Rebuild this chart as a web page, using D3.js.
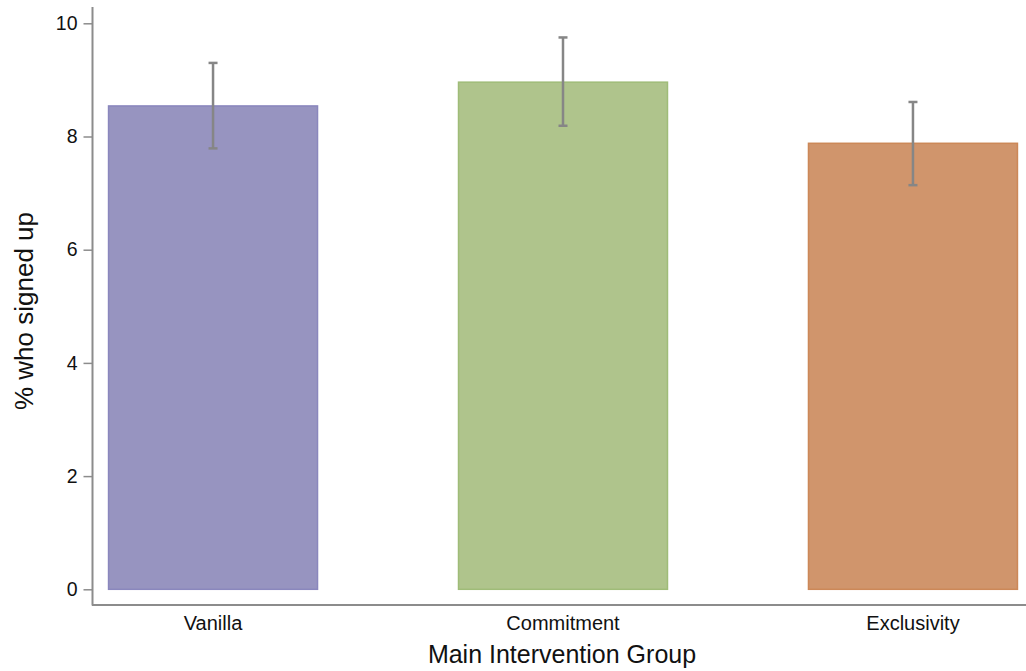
<!DOCTYPE html>
<html>
<head>
<meta charset="utf-8">
<script src="https://cdn.jsdelivr.net/npm/d3@7"></script>
<style>
  html, body { margin: 0; padding: 0; background: #fff; }
  svg { display: block; font-family: "Liberation Sans", Arial, Helvetica, sans-serif; }
</style>
</head>
<body>
<svg id="chart" width="1026" height="671"></svg>
<script>
// Sign-up rate by main intervention group, with 95% intervals
const groups = ["Vanilla", "Commitment", "Exclusivity"];
const signedUp = [8.54, 8.96, 7.88];
const ciLow = [7.79, 8.19, 7.14];
const ciHigh = [9.30, 9.75, 8.61];
const fills = ["#9794c0", "#afc48c", "#d0956c"];
const strokes = ["#8a87bd", "#9fbc78", "#cc8858"];
const yTicks = [0, 2, 4, 6, 8, 10];

const svg = d3.select("#chart");
const axisColor = "#8c8c8c";

const x = d3.scaleBand()
  .domain(groups)
  .range([93, 1033])
  .paddingInner(0.4)
  .paddingOuter(0.043);

const y = d3.scaleLinear()
  .domain([0, 10])
  .range([589.3, 23.3]);

// y axis
const yAxis = svg.append("g")
  .attr("transform", "translate(92.5,0)")
  .call(d3.axisLeft(y).tickValues(yTicks).tickSize(9).tickPadding(6).tickFormat(d3.format("d")));
yAxis.select(".domain").remove();
yAxis.selectAll(".tick line").attr("stroke", axisColor).attr("stroke-width", 1.5);
yAxis.selectAll(".tick text")
  .attr("fill", "#111")
  .style("font-size", "19.5px")
  .style("font-family", "\"Liberation Sans\", Arial, sans-serif");
svg.append("line")
  .attr("x1", 92.5).attr("x2", 92.5)
  .attr("y1", 7).attr("y2", 605.5)
  .attr("stroke", axisColor).attr("stroke-width", 2);

// x axis
svg.append("line")
  .attr("x1", 92).attr("x2", 1026)
  .attr("y1", 605).attr("y2", 605)
  .attr("stroke", axisColor).attr("stroke-width", 2);
const xAxis = svg.append("g")
  .attr("transform", "translate(0,605)")
  .call(d3.axisBottom(x).tickSize(0).tickPadding(10));
xAxis.select(".domain").remove();
xAxis.selectAll(".tick text")
  .attr("fill", "#111")
  .attr("dy", "0")
  .attr("y", 25)
  .style("font-size", "20px")
  .style("font-family", "\"Liberation Sans\", Arial, sans-serif");

// bars
const data = groups.map((g, i) => ({ g, v: signedUp[i], lo: ciLow[i], hi: ciHigh[i], fill: fills[i], stroke: strokes[i] }));

svg.append("g").selectAll("rect")
  .data(data)
  .join("rect")
  .attr("x", d => x(d.g) + 0.5)
  .attr("y", d => y(d.v))
  .attr("width", x.bandwidth() - 1)
  .attr("height", d => y(0) - y(d.v))
  .attr("fill", d => d.fill)
  .attr("stroke", d => d.stroke)
  .attr("stroke-width", 1.5);

// error bars
const eb = svg.append("g").attr("stroke", "#868686").attr("stroke-width", 2.5).attr("fill", "none");
const cx = d => x(d.g) + x.bandwidth() / 2;
eb.selectAll("line.stem").data(data).join("line").attr("class", "stem")
  .attr("x1", cx).attr("x2", cx)
  .attr("y1", d => y(d.hi)).attr("y2", d => y(d.lo));
eb.selectAll("line.capHi").data(data).join("line").attr("class", "capHi")
  .attr("x1", d => cx(d) - 4.5).attr("x2", d => cx(d) + 4.5)
  .attr("y1", d => y(d.hi)).attr("y2", d => y(d.hi));
eb.selectAll("line.capLo").data(data).join("line").attr("class", "capLo")
  .attr("x1", d => cx(d) - 4.5).attr("x2", d => cx(d) + 4.5)
  .attr("y1", d => y(d.lo)).attr("y2", d => y(d.lo));

// axis titles
svg.append("text")
  .attr("x", 562).attr("y", 663)
  .attr("text-anchor", "middle")
  .attr("fill", "#111")
  .style("font-size", "25px")
  .text("Main Intervention Group");

svg.append("text")
  .attr("transform", "translate(33,311) rotate(-90)")
  .attr("text-anchor", "middle")
  .attr("fill", "#111")
  .style("font-size", "26px")
  .text("% who signed up");
</script>
</body>
</html>
